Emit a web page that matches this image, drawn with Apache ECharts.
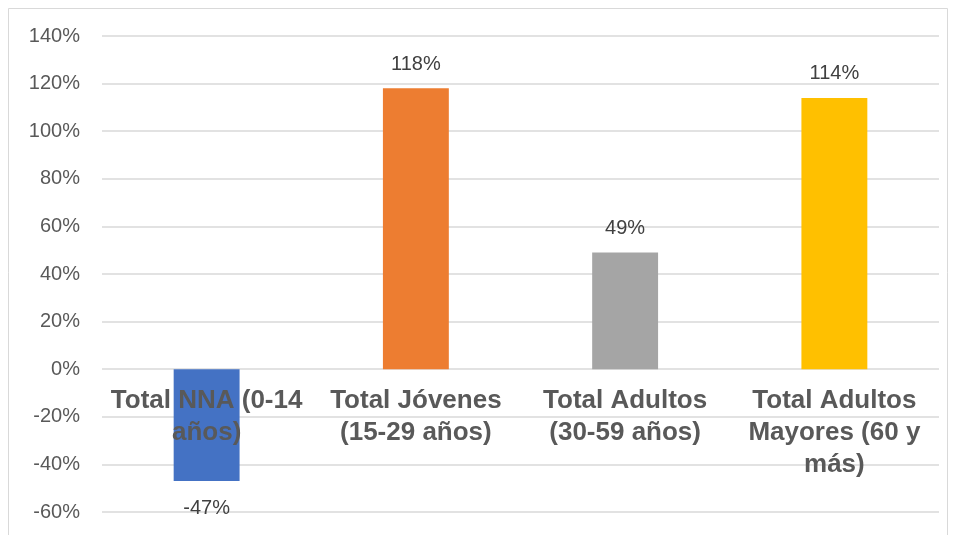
<!DOCTYPE html>
<html>
<head>
<meta charset="utf-8">
<script src="https://cdn.jsdelivr.net/npm/echarts@6/dist/echarts.min.js"></script>
<style>
  html, body { margin: 0; padding: 0; background: #fff; }
  #main { width: 956px; height: 535px; }
</style>
</head>
<body>
<div id="main"></div>
<script>
// categorias (con saltos de linea como en el original)
var categories = ['Total NNA (0-14\naños)', 'Total Jóvenes\n(15-29 años)', 'Total Adultos\n(30-59 años)', 'Total Adultos\nMayores (60 y\nmás)'];
// variacion porcentual
var values = [-47, 118, 49, 114];
var barColors = ['#4472C4', '#ED7D31', '#A5A5A5', '#FFC000'];
var yTicks = [-60, 140, 20];

var myChart = echarts.init(document.getElementById('main'));
myChart.setOption({
  backgroundColor: '#ffffff',
  animation: false,
  textStyle: { fontFamily: 'Liberation Sans' },
  graphic: [{
    type: 'rect',
    shape: { x: 8.5, y: 8.5, width: 939, height: 540 },
    style: { fill: 'none', stroke: '#d9d9d9', lineWidth: 1 },
    silent: true
  }],
  grid: { left: 102, right: 17, top: 36, bottom: 23 },
  xAxis: {
    type: 'category',
    data: categories,
    z: 10,
    axisLine: { show: false, onZero: false },
    axisTick: { show: false },
    axisLabel: {
      interval: 0,
      margin: -127,
      color: '#595959',
      fontSize: 26,
      fontWeight: 'bold',
      lineHeight: 32,
      verticalAlign: 'top'
    }
  },
  yAxis: {
    type: 'value',
    min: yTicks[0],
    max: yTicks[1],
    interval: yTicks[2],
    axisLine: { show: false },
    axisTick: { show: false },
    axisLabel: {
      margin: 22,
      color: '#595959',
      fontSize: 20,
      formatter: function (v) { return v + '%'; }
    },
    splitLine: { lineStyle: { color: '#d9d9d9', width: 1.5 } }
  },
  series: [{
    type: 'bar',
    barWidth: '31.5%',
    data: values.map(function (v, i) {
      return {
        value: v,
        itemStyle: { color: barColors[i] },
        label: { position: v < 0 ? 'bottom' : 'top', distance: v < 0 ? 17 : 14 }
      };
    }),
    label: {
      show: true,
      color: '#404040',
      fontSize: 20,
      formatter: function (p) { return p.value + '%'; }
    }
  }]
});
</script>
</body>
</html>
